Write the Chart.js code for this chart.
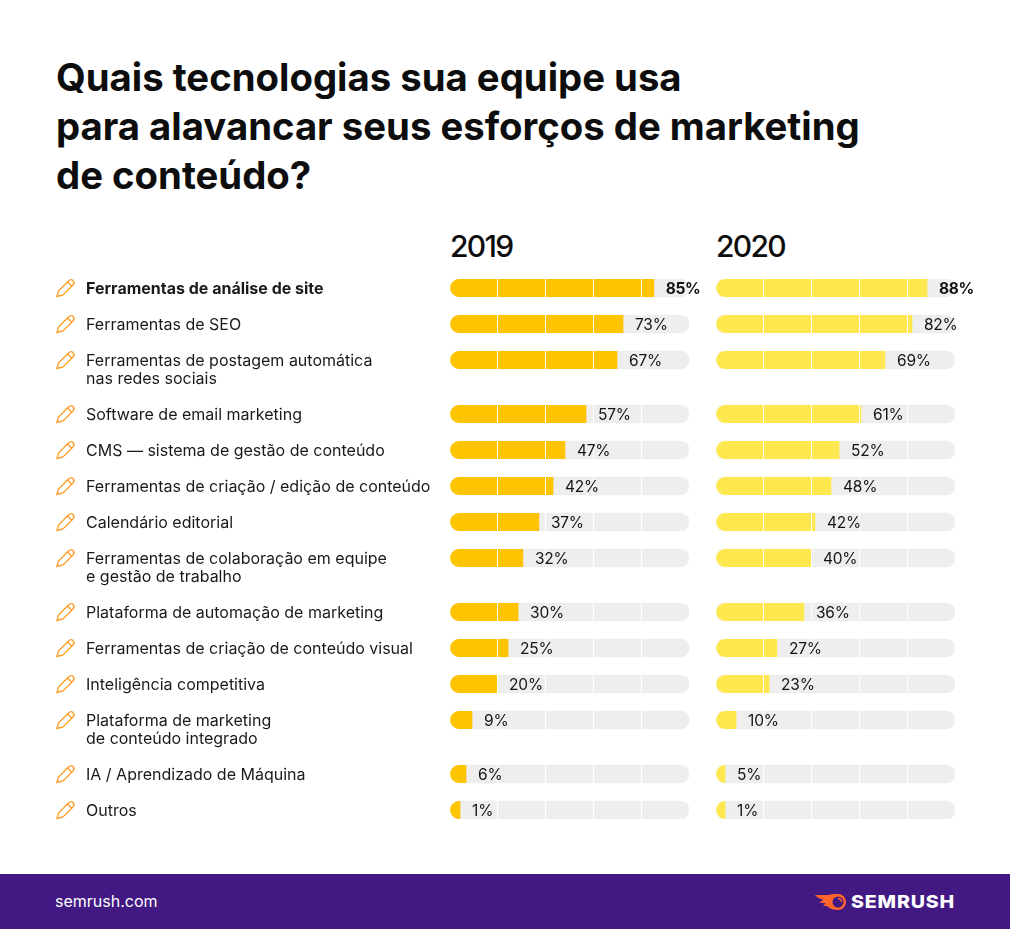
<!DOCTYPE html>
<html lang="pt-BR">
<head>
<meta charset="utf-8">
<title>Tecnologias de marketing de conteúdo</title>
<script src="https://cdn.jsdelivr.net/npm/chart.js@4"></script>
<style>
  html, body { margin: 0; padding: 0; background: #fff; }
  body { position: relative; width: 1010px; height: 929px; overflow: hidden; font-family: Inter, sans-serif; color: #0d0d0d; }
  h1 { position: absolute; left: 56px; top: 53px; margin: 0; font-size: 38.3px; line-height: 49px; font-weight: 700; white-space: nowrap; }
  .ano { position: absolute; top: 228px; font-size: 30px; line-height: 36px; font-weight: 500; letter-spacing: -1.7px; }
  canvas { position: absolute; top: 270px; }
  #rodape { position: absolute; left: 0; top: 874px; width: 1010px; height: 55px; background: #421983; color: #fff; }
  #site { position: absolute; left: 55px; top: 18px; font-size: 16px; line-height: 19px; }
  #logo { position: absolute; left: 814px; top: 17px; }
  #marca { position: absolute; left: 851px; top: 17px; font-size: 18px; line-height: 22px; font-weight: 800; letter-spacing: 0.75px; transform: scaleX(1.09); transform-origin: left center; }
</style>
</head>
<body>
<h1>Quais tecnologias sua equipe usa<br>para alavancar seus esforços de marketing<br>de conteúdo?</h1>
<div class="ano" style="left:450px">2019</div>
<div class="ano" style="left:716px">2020</div>
<canvas id="grafico2019" width="700" height="550" style="left:0"></canvas>
<canvas id="grafico2020" width="310" height="550" style="left:700px"></canvas>
<div id="rodape">
  <div id="site">semrush.com</div>
  <svg id="logo" width="34" height="22" viewBox="0 0 34 22">
    <path fill="#ff642d" d="M1 4H15C18 2.500 21 3 24 3a8 8 0 0 1 0 16C19 19 15.500 17.500 13 15H9C10 14 11 13 11.500 12H5C6.500 11 8 10 9 8.500 6 8 3 6.500 1 4z"/>
    <circle cx="24" cy="11" r="5.500" fill="#421983"/>
    <path fill="none" stroke="#ff642d" stroke-width="1.500" d="M24 7.500a3.500 3.500 0 0 1 3.500 3.500"/>
  </svg>
  <div id="marca">SEMRUSH</div>
</div>
<script>
// cada categoria: primeira e segunda linha do texto
const categorias = [
  ['Ferramentas de análise de site'],
  ['Ferramentas de SEO'],
  ['Ferramentas de postagem automática', 'nas redes sociais'],
  ['Software de email marketing'],
  ['CMS — sistema de gestão de conteúdo'],
  ['Ferramentas de criação / edição de conteúdo'],
  ['Calendário editorial'],
  ['Ferramentas de colaboração em equipe', 'e gestão de trabalho'],
  ['Plataforma de automação de marketing'],
  ['Ferramentas de criação de conteúdo visual'],
  ['Inteligência competitiva'],
  ['Plataforma de marketing', 'de conteúdo integrado'],
  ['IA / Aprendizado de Máquina'],
  ['Outros']
];

// numeros impressos ao lado das barras
const valores2019 = [85, 73, 67, 57, 47, 42, 37, 32, 30, 25, 20, 9, 6, 1];
const valores2020 = [88, 82, 69, 61, 52, 48, 42, 40, 36, 27, 23, 10, 5, 1];

// comprimento das barras (nao segue exatamente os numeros)
const barras2019 = [85.3, 72.4, 69.9, 56.9, 48.1, 43.1, 37.2, 30.5, 28.5, 24.3, 19.7, 9.2, 6.7, 4.2];
const barras2020 = [88.3, 82, 70.7, 60.7, 51.5, 48.1, 41.4, 39.7, 36.8, 25.5, 22.2, 8.4, 3.8, 3.8];

const fundoBarra = 100;
const ticksX = 20;

const lapis = new Path2D('M-8 8.500L-6.500 3L3.500-7C5-8.500 7-8.500 8-7.500S9.500-4.500 8-3L-2 7ZM2.500-6L7-1.500');

// cada linha de texto ocupa uma fatia; depois de cada categoria vem uma fatia vazia
const fatias = [];
const indiceFatia = [];
categorias.forEach(linhas => {
  indiceFatia.push(fatias.length);
  linhas.forEach(l => fatias.push(l));
  fatias.push('');
});
fatias.pop();

function espalhar(lista) {
  const saida = fatias.map(() => null);
  lista.forEach((v, i) => { saida[indiceFatia[i]] = v; });
  return saida;
}

const pluginBarras = {
  id: 'pluginBarras',
  beforeDatasetDraw(chart, args) {
    if (args.index !== 0) return;
    // a barra colorida e recortada pelo formato arredondado do fundo
    const { x, y } = chart.scales;
    const ctx = chart.ctx;
    ctx.save();
    ctx.beginPath();
    indiceFatia.forEach(f => {
      ctx.roundRect(x.getPixelForValue(0), y.getPixelForValue(f) - 9, x.getPixelForValue(fundoBarra) - x.getPixelForValue(0), 18, 9);
    });
    ctx.clip();
  },
  afterDatasetDraw(chart, args) {
    if (args.index === 0) chart.ctx.restore();
  },
  afterDraw(chart, args, opts) {
    const { x, y } = chart.scales;
    const ctx = chart.ctx;
    ctx.save();
    ctx.textBaseline = 'middle';
    ctx.fillStyle = '#141414';
    opts.numeros.forEach((v, i) => {
      ctx.font = (i === 0 ? '700 15.5px' : '400 15.5px') + ' Inter';
      ctx.letterSpacing = i === 0 ? '-0.4px' : '-0.2px';
      ctx.fillText(v + '%', x.getPixelForValue(opts.barras[i]) + 12, y.getPixelForValue(indiceFatia[i]) + 1);
    });
    ctx.restore();
    if (!opts.icones) return;
    ctx.save();
    ctx.strokeStyle = '#ff9b21';
    ctx.lineWidth = 1.3;
    indiceFatia.forEach(f => {
      ctx.setTransform(1, 0, 0, 1, 65, y.getPixelForValue(f));
      ctx.stroke(lapis);
    });
    ctx.restore();
  }
};

function criarGrafico(id, barras, numeros, cor, comTexto) {
  new Chart(document.getElementById(id), {
    type: 'bar',
    plugins: [pluginBarras],
    data: {
      labels: fatias,
      datasets: [
        { data: espalhar(barras), backgroundColor: cor },
        { data: espalhar(categorias.map(() => fundoBarra)), backgroundColor: '#eeeeee', borderRadius: 9, borderSkipped: false }
      ]
    },
    options: {
      indexAxis: 'y',
      responsive: false,
      animation: false,
      events: [],
      layout: { padding: comTexto ? { left: 86, right: 11, top: 9, bottom: 1 } : { left: 16, right: 55, top: 9, bottom: 1 } },
      datasets: { bar: { grouped: false, barThickness: 18 } },
      plugins: {
        legend: { display: false },
        tooltip: { enabled: false },
        pluginBarras: { barras, numeros, icones: comTexto }
      },
      scales: {
        x: {
          min: 0,
          max: 100,
          ticks: { display: false, stepSize: ticksX },
          border: { display: false },
          grid: {
            z: 1,
            drawTicks: false,
            lineWidth: 1,
            color: c => (c.tick && (c.tick.value === 0 || c.tick.value === 100)) ? 'rgba(0,0,0,0)' : '#ffffff'
          }
        },
        y: {
          display: comTexto,
          border: { display: false },
          grid: { display: false, drawTicks: false },
          afterFit(scale) {
            scale.width = comTexto ? 364 : 0;
            scale.paddingTop = 0;
            scale.paddingBottom = 0;
          },
          ticks: {
            autoSkip: false,
            crossAlign: 'far',
            padding: 0,
            labelOffset: 1,
            color: '#1a1a1a',
            font: c => ({ family: 'Inter', size: 16, weight: c.index === 0 ? '700' : '400' })
          }
        }
      }
    }
  });
}

criarGrafico('grafico2019', barras2019, valores2019, '#ffc400', true);
criarGrafico('grafico2020', barras2020, valores2020, '#ffe84f', false);
</script>
</body>
</html>
